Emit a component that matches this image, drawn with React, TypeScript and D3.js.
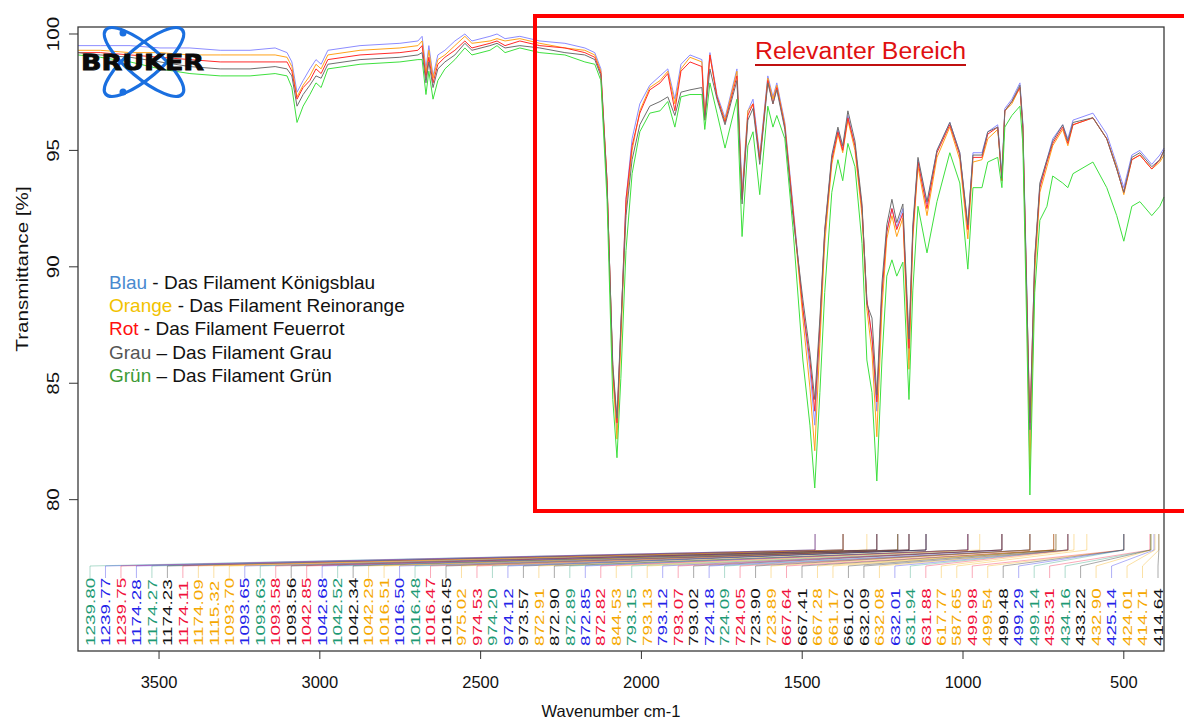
import React from "react";
import * as d3 from "d3";

const wavenumbers = [
  3752, 3683, 3590, 3497, 3404, 3310, 3217, 3139, 3102, 3087,
  3071, 3052, 3031, 3012, 2996, 2975, 2875, 2751, 2695, 2682,
  2670, 2661, 2648, 2633, 2611, 2580, 2549, 2527, 2471, 2449,
  2424, 2378, 2316, 2238, 2176, 2145, 2126, 2107, 2089, 2076,
  2064, 2048, 2029, 2005, 1974, 1942, 1918, 1896, 1877, 1849,
  1812, 1803, 1787, 1765, 1740, 1703, 1687, 1669, 1653, 1632,
  1607, 1591, 1579, 1554, 1529, 1498, 1476, 1461, 1445, 1430,
  1408, 1389, 1374, 1358, 1336, 1314, 1299, 1283, 1268, 1252,
  1237, 1221, 1206, 1187, 1168, 1156, 1140, 1112, 1081, 1041,
  1010, 985, 969, 941, 923, 892, 879, 870, 848, 823,
  814, 802, 792, 777, 761, 739, 721, 690, 674, 658,
  596, 553, 522, 500, 475, 450, 413, 388, 375,
];

const blau = [
  99.5, 99.5, 99.5, 99.4, 99.4, 99.3, 99.3, 99.4, 99.2, 98.8,
  97.5, 98.0, 98.5, 98.9, 98.7, 99.3, 99.5, 99.6, 99.7, 99.9,
  98.5, 99.5, 98.2, 99.1, 99.3, 99.7, 100.0, 99.7, 99.9, 100.0,
  99.8, 99.9, 99.7, 99.6, 99.4, 99.2, 98.5, 93.7, 85.6, 83.0,
  87.3, 92.9, 95.5, 97.0, 97.8, 98.2, 98.5, 97.2, 98.7, 99.1,
  98.9, 96.5, 99.2, 97.4, 96.4, 98.5, 93.3, 96.7, 97.2, 94.8,
  98.2, 97.3, 97.9, 96.2, 92.7, 88.2, 85.6, 83.2, 87.3, 91.4,
  94.7, 95.9, 95.1, 96.5, 95.2, 92.5, 88.6, 86.9, 83.8, 88.8,
  91.5, 92.5, 91.7, 92.5, 86.0, 91.6, 94.6, 92.7, 95.0, 96.2,
  94.9, 91.7, 94.9, 94.9, 95.8, 96.1, 94.0, 96.8, 97.2, 97.9,
  96.2, 89.3, 82.2, 90.1, 93.5, 94.6, 95.5, 96.1, 95.5, 96.3,
  96.6, 95.7, 94.4, 93.4, 94.8, 95.0, 94.4, 94.8, 95.1,
];

const orange = [
  99.3, 99.3, 99.2, 99.2, 99.1, 99.1, 99.1, 99.1, 99.0, 98.6,
  97.3, 97.8, 98.2, 98.7, 98.5, 99.1, 99.3, 99.4, 99.5, 99.7,
  98.3, 99.3, 98.1, 98.9, 99.1, 99.5, 99.9, 99.6, 99.7, 99.8,
  99.7, 99.8, 99.6, 99.4, 99.3, 99.1, 98.4, 93.7, 85.4, 82.6,
  86.7, 92.5, 95.0, 96.7, 97.7, 98.0, 98.4, 97.0, 98.5, 99.0,
  98.8, 96.4, 99.1, 97.3, 96.3, 98.4, 92.9, 96.7, 97.0, 94.6,
  98.1, 97.2, 97.8, 96.1, 92.5, 87.8, 84.8, 82.1, 86.7, 91.0,
  94.4, 95.7, 94.9, 96.3, 95.0, 92.2, 88.2, 86.3, 82.7, 88.2,
  91.2, 92.2, 91.3, 92.1, 85.6, 91.2, 94.3, 92.2, 94.7, 96.0,
  94.6, 91.2, 94.5, 94.6, 95.5, 95.9, 93.7, 96.7, 97.0, 97.7,
  96.0, 88.6, 81.3, 89.7, 93.2, 94.3, 95.2, 95.9, 95.2, 96.1,
  96.4, 95.5, 94.3, 93.1, 94.6, 94.8, 94.2, 94.5, 94.8,
];

const rot = [
  99.2, 99.2, 99.1, 99.0, 98.9, 98.8, 98.8, 98.8, 98.8, 98.4,
  97.2, 97.7, 98.0, 98.5, 98.3, 98.9, 99.1, 99.2, 99.3, 99.5,
  98.1, 99.0, 97.9, 98.7, 99.0, 99.3, 99.7, 99.4, 99.6, 99.7,
  99.5, 99.7, 99.5, 99.4, 99.2, 99.0, 98.3, 93.7, 85.6, 83.3,
  87.3, 92.9, 95.2, 96.6, 97.6, 97.9, 98.3, 96.7, 98.4, 98.8,
  98.6, 96.3, 99.1, 97.3, 96.2, 98.2, 92.9, 96.5, 97.0, 94.6,
  98.0, 97.0, 97.7, 96.0, 92.5, 88.2, 86.0, 83.8, 87.5, 91.5,
  94.6, 95.8, 95.0, 96.4, 95.2, 92.5, 88.6, 87.0, 84.2, 88.9,
  91.5, 92.5, 91.6, 92.3, 86.5, 91.5, 94.5, 92.5, 94.9, 96.1,
  94.8, 91.6, 94.7, 94.7, 95.7, 96.0, 93.7, 96.7, 97.1, 97.7,
  96.0, 88.9, 83.3, 90.3, 93.4, 94.5, 95.3, 96.0, 95.3, 96.1,
  96.4, 95.5, 94.2, 93.2, 94.6, 94.8, 94.2, 94.6, 95.0,
];

const grau = [
  99.2, 99.1, 99.0, 98.8, 98.6, 98.5, 98.5, 98.6, 98.5, 98.2,
  96.9, 97.4, 97.8, 98.2, 98.1, 98.7, 98.9, 99.0, 99.1, 99.2,
  97.9, 98.8, 97.7, 98.5, 98.8, 99.1, 99.6, 99.3, 99.5, 99.6,
  99.4, 99.5, 99.4, 99.2, 99.1, 98.9, 98.2, 93.5, 85.8, 83.5,
  87.5, 92.2, 94.6, 96.1, 96.9, 97.1, 97.3, 96.5, 97.5, 97.6,
  97.7, 96.3, 98.5, 97.2, 96.1, 98.0, 92.7, 96.3, 96.8, 94.4,
  97.9, 97.0, 97.6, 95.9, 92.2, 88.6, 86.3, 84.3, 87.8, 91.6,
  94.8, 96.0, 95.2, 96.7, 95.4, 92.7, 88.4, 87.8, 84.5, 89.3,
  91.8, 92.9, 91.9, 92.7, 86.9, 91.8, 94.7, 92.8, 95.0, 96.2,
  94.9, 91.8, 94.8, 94.8, 95.8, 96.0, 93.8, 96.7, 97.1, 97.8,
  96.1, 89.0, 83.0, 90.4, 93.6, 94.6, 95.4, 96.1, 95.4, 96.2,
  96.4, 95.5, 94.2, 93.2, 94.7, 94.9, 94.3, 94.6, 95.0,
];

const gruen = [
  99.1, 99.0, 98.8, 98.5, 98.3, 98.2, 98.2, 98.3, 98.2, 97.7,
  96.2, 96.9, 97.4, 97.9, 97.7, 98.5, 98.7, 98.8, 98.9, 98.9,
  97.4, 98.4, 97.2, 98.0, 98.5, 98.9, 99.4, 99.1, 99.3, 99.5,
  99.2, 99.4, 99.2, 99.1, 98.8, 98.7, 98.0, 92.9, 84.3, 81.8,
  85.2, 90.7, 94.0, 95.8, 96.6, 96.7, 97.1, 96.0, 97.3, 97.4,
  97.4, 95.9, 97.9, 96.6, 95.1, 97.2, 91.3, 95.2, 95.8, 93.1,
  96.9, 96.0, 96.5, 95.5, 91.7, 86.0, 83.2, 80.5, 84.6, 88.9,
  93.2, 94.6, 93.7, 95.3, 94.3, 91.0, 86.0, 84.6, 80.8, 86.0,
  89.6, 90.3, 89.6, 90.2, 84.3, 89.0, 92.6, 90.6, 92.8, 94.9,
  93.6, 89.9, 93.4, 93.4, 94.5, 94.7, 93.4, 96.0, 96.5, 96.9,
  95.3, 87.5, 80.2, 88.9, 92.0, 92.6, 93.9, 93.6, 93.4, 94.0,
  94.5, 93.4, 92.2, 91.1, 92.6, 92.8, 92.2, 92.6, 93.0,
];

const seriesNames = ["Blau", "Orange", "Rot", "Grau", "Grün"];
const seriesValues = [blau, orange, rot, grau, gruen];
const lineColors = ["#8c8cff", "#ffa31a", "#ff2a2a", "#6e6e6e", "#3ee03e"];
const legendColors = ["#4a8ad0", "#f2c200", "#ff1010", "#555555", "#3d9a35"];
const legendTexts = [
  " - Das Filament Königsblau",
  " - Das Filament Reinorange",
  " - Das Filament Feuerrot",
  " – Das Filament Grau",
  " – Das Filament Grün",
];
const labelColors = ["#2323e8", "#f5a800", "#f0103a", "#111111", "#1e9a74"];

// picked peaks: label text, series index, position on the plotted axis
const peakLabels = [
  "1239.80", "1239.77", "1239.75", "1174.28", "1174.27", "1174.23", "1174.11", "1174.09",
  "1115.32", "1093.70", "1093.65", "1093.63", "1093.58", "1093.56", "1042.85", "1042.68",
  "1042.52", "1042.34", "1042.29", "1016.51", "1016.50", "1016.48", "1016.47", "1016.45",
  "975.02", "974.53", "974.20", "974.12", "973.57", "872.91", "872.90", "872.89",
  "872.85", "872.82", "844.53", "793.15", "793.13", "793.12", "793.07", "793.02",
  "724.18", "724.09", "724.05", "723.90", "723.89", "667.64", "667.41", "667.28",
  "661.17", "661.02", "632.09", "632.08", "632.01", "631.94", "631.88", "617.77",
  "587.65", "499.98", "499.54", "499.48", "499.29", "499.14", "435.31", "434.16",
  "433.22", "432.90", "425.14", "424.01", "414.71", "414.64",
];
const peakSeries = [
  4, 0, 2, 0, 4, 3, 2, 1,
  1, 1, 0, 4, 2, 3, 2, 0,
  4, 3, 1, 1, 0, 4, 2, 3,
  1, 2, 4, 0, 3, 1, 3, 4,
  0, 2, 1, 4, 1, 0, 2, 3,
  0, 4, 2, 3, 1, 2, 3, 1,
  1, 3, 3, 1, 0, 4, 2, 1,
  1, 2, 1, 3, 0, 4, 2, 4,
  3, 1, 0, 1, 1, 3,
];
const peakAt = [
  1460, 1460, 1460, 1373, 1373, 1373, 1373, 1373,
  1299, 1268, 1268, 1268, 1268, 1268, 1203, 1203,
  1203, 1203, 1203, 1168, 1168, 1168, 1168, 1168,
  1115, 1115, 1115, 1115, 1115, 985, 985, 985,
  985, 985, 948, 879, 879, 879, 879, 879,
  792, 792, 792, 792, 792, 718, 718, 718,
  711, 711, 674, 674, 674, 674, 674, 655,
  615, 500, 500, 500, 500, 500, 419, 416,
  416, 416, 406, 403, 391, 391,
];

const xTicks = [3500, 3000, 2500, 2000, 1500, 1000, 500];
const yTicks = [80, 85, 90, 95, 100];

const W = 1184;
const H = 722;
const left = 78;
const right = 1164;
const top = 27;
const bottom = 651;
const font = "Arial, 'Liberation Sans', sans-serif";

const App: React.FC = () => {
  const x = d3.scaleLinear().domain([3752, 375]).range([left, right]);
  const y = d3.scaleLinear().domain([73.5, 100.3]).range([bottom, top]);

  const line = d3
    .line<[number, number]>()
    .x((d) => x(d[0]))
    .y((d) => y(d[1]));

  const labelX = d3
    .scalePoint<number>()
    .domain(d3.range(peakLabels.length))
    .range([90, 1158]);

  return (
    <div style={{ position: "absolute", left: 0, top: 0 }}>
      <svg width={W} height={H} style={{ display: "block", background: "#fff" }}>
        <rect x={0} y={0} width={W} height={H} fill="#fff" />

        {/* spectra */}
        <g fill="none" strokeWidth={1}>
          {seriesValues.map((vals, i) => (
            <path
              key={seriesNames[i]}
              d={line(wavenumbers.map((w, j) => [w, vals[j]] as [number, number])) || ""}
              stroke={lineColors[i]}
            />
          ))}
        </g>

        {/* peak leaders */}
        <g fill="none" strokeWidth={0.8}>
          {peakLabels.map((lab, i) => {
            const lx = labelX(i) as number;
            const px = x(peakAt[i]);
            return (
              <path
                key={"l" + i}
                d={`M${lx},578 L${lx},566 L${px},550 L${px},534`}
                stroke={labelColors[peakSeries[i]]}
                strokeOpacity={0.45}
              />
            );
          })}
        </g>

        {/* peak labels */}
        <g fontFamily={font} fontSize={13}>
          {peakLabels.map((lab, i) => (
            <text
              key={"t" + i}
              transform={`translate(${(labelX(i) as number) + 4.7},646) rotate(-90) scale(1.45,1)`}
              fill={labelColors[peakSeries[i]]}
            >
              {lab}
            </text>
          ))}
        </g>

        {/* frame */}
        <rect
          x={left}
          y={top}
          width={right - left}
          height={bottom - top}
          fill="none"
          stroke="#3a3a3a"
          strokeWidth={1.3}
        />

        {/* x axis */}
        <g fontFamily={font} fontSize={16.5} fill="#111">
          {xTicks.map((t) => (
            <g key={t}>
              <line x1={x(t)} x2={x(t)} y1={bottom} y2={bottom + 8} stroke="#333" />
              <text x={x(t)} y={688} textAnchor="middle">
                {t}
              </text>
            </g>
          ))}
          <text x={611} y={717} textAnchor="middle">
            Wavenumber cm-1
          </text>
        </g>

        {/* y axis */}
        <g fontFamily={font} fontSize={16.5} fill="#111">
          {yTicks.map((t) => (
            <g key={t}>
              <line x1={left - 9} x2={left} y1={y(t)} y2={y(t)} stroke="#333" />
              <text
                transform={`translate(59,${y(t)}) rotate(-90) scale(1.25,1)`}
                textAnchor="middle"
              >
                {t}
              </text>
            </g>
          ))}
          <text
            transform={`translate(28,269) rotate(-90) scale(1.25,1)`}
            textAnchor="middle"
          >
            Transmittance [%]
          </text>
        </g>

        {/* legend */}
        <g fontFamily={font} fontSize={19}>
          {seriesNames.map((n, i) => (
            <text key={n} x={109} y={289 + i * 23.2} fill="#111">
              <tspan fill={legendColors[i]}>{n}</tspan>
              {legendTexts[i]}
            </text>
          ))}
        </g>

        {/* logo */}
        <g>
          <g fill="none" stroke="#1a6fe0" strokeWidth={3.2}>
            <ellipse cx={144} cy={62} rx={50} ry={16} transform="rotate(40,144,62)" />
            <ellipse cx={144} cy={62} rx={50} ry={16} transform="rotate(-40,144,62)" />
          </g>
          <circle cx={123} cy={33} r={3.5} fill="#1a6fe0" />
          <circle cx={123} cy={92} r={3.5} fill="#1a6fe0" />
          <text
            x={81}
            y={70}
            fontFamily="'DejaVu Sans', Arial, sans-serif"
            fontWeight={900}
            fontSize={21}
            textLength={123}
            lengthAdjust="spacingAndGlyphs"
            fill="#0a0a0a"
            stroke="#0a0a0a"
            strokeWidth={0.8}
          >
            BRUKER
          </text>
        </g>

        {/* highlighted region */}
        <rect x={535} y={16} width={660} height={495} fill="none" stroke="#ff0000" strokeWidth={4} />
        <text
          x={755}
          y={59}
          fontFamily={font}
          fontSize={23}
          textLength={211}
          lengthAdjust="spacingAndGlyphs"
          fill="#e01010"
        >
          Relevanter Bereich
        </text>
        <line x1={755} x2={966} y1={65} y2={65} stroke="#c01010" strokeWidth={2} />
      </svg>
    </div>
  );
};

export default App;
